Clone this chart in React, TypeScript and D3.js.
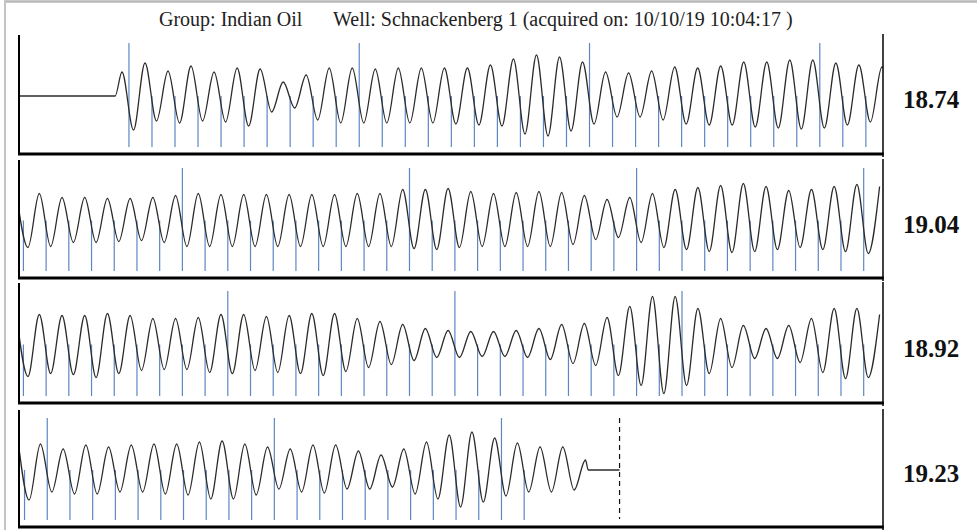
import React from "react";
import * as d3 from "d3";

const titleGroup = "Group: Indian Oil";
const titleWell = "Well: Schnackenberg 1 (acquired on: 10/10/19 10:04:17 )";

// fluid level printed at the right of each strip
const levels = ["18.74", "19.04", "18.92", "19.23"];

// amplitude of each peak / trough (trace units), read strip by strip
const s1Peaks = [24, 33, 25, 30, 24, 28, 27, 14, 21, 28, 28, 27, 28, 28, 28, 28, 31, 37, 41, 39, 34, 24, 23, 25, 29, 28, 30, 34, 34, 36, 36, 33, 31, 29];
const s1Troughs = [34, 25, 27, 25, 26, 30, 16, 12, 24, 27, 27, 27, 27, 27, 28, 29, 30, 38, 40, 35, 28, 21, 21, 24, 28, 29, 29, 31, 32, 33, 32, 29, 26, 25];

const s2Peaks = [27, 23, 23, 22, 22, 23, 25, 27, 26, 26, 26, 26, 26, 26, 27, 27, 31, 31, 32, 29, 27, 28, 29, 28, 25, 21, 23, 27, 31, 33, 35, 37, 34, 30, 31, 34, 36, 34];
const s2Troughs = [27, 26, 22, 22, 21, 20, 22, 26, 26, 26, 26, 26, 26, 26, 26, 26, 26, 28, 29, 27, 26, 26, 26, 26, 24, 19, 17, 22, 27, 29, 31, 32, 31, 29, 27, 29, 31, 33];

const s3Peaks = [30, 29, 29, 31, 29, 26, 26, 27, 30, 30, 28, 29, 31, 31, 26, 23, 20, 16, 14, 13, 13, 14, 16, 20, 21, 27, 38, 48, 48, 36, 26, 19, 16, 19, 26, 36, 36, 30];
const s3Troughs = [32, 29, 30, 33, 29, 26, 25, 25, 28, 29, 26, 28, 29, 31, 27, 23, 20, 16, 13, 13, 12, 12, 13, 15, 19, 21, 31, 41, 49, 41, 29, 23, 14, 14, 18, 28, 34, 33];

const s4Peaks = [26, 21, 25, 23, 25, 26, 26, 28, 29, 26, 23, 21, 25, 25, 19, 15, 21, 28, 35, 38, 32, 27, 23, 23, 10];
const s4Troughs = [30, 22, 24, 24, 22, 22, 24, 25, 29, 29, 25, 19, 22, 23, 19, 19, 17, 24, 29, 37, 32, 26, 22, 22, 20];

// peak carried over from the previous strip (strip 1 starts with the shot)
const leadPeaks = [null, 26, 28, 32];
// time (joints) of the first extreme and half a cycle per strip
const waveStart = [4.49, -0.15, -0.15, -0.1];
const halfCycle = [0.507, 0.5, 0.5, 0.5];
const shotTime = 4.19;
const recordEnd = 26.4;
// collar markers: first joint number and count per strip
const firstJoint = [0, 33, 71, 109];
const jointCount = [33, 38, 38, 23];

const stripSpan = 38;
const tops = [35, 160, 283, 410];
const bottoms = [154, 278, 403, 527];
const LEFT = 20;
const RIGHT = 883;

const peaksList = [s1Peaks, s2Peaks, s3Peaks, s4Peaks];
const troughsList = [s1Troughs, s2Troughs, s3Troughs, s4Troughs];

function extremes(k: number): number[] {
  const P = peaksList[k];
  const T = troughsList[k];
  const out: number[] = [];
  if (leadPeaks[k] === null) {
    P.forEach((p, i) => {
      out.push(p);
      if (i < T.length) out.push(-T[i]);
    });
  } else {
    out.push(leadPeaks[k] as number);
    T.forEach((t, i) => {
      out.push(-t);
      if (i < P.length) out.push(P[i]);
    });
  }
  return out;
}

function Strip({ k }: { k: number }) {
  const top = tops[k];
  const bottom = bottoms[k];
  const mid = (top + bottom) / 2 + 1.5;
  const x = d3.scaleLinear().domain([0, stripSpan]).range([LEFT, RIGHT]);
  const y = d3.scaleLinear().domain([-60, 60]).range([mid + 60, mid - 60]);

  const ext = extremes(k);
  const pts: [number, number][] = ext.map((v, i) => [waveStart[k] + i * halfCycle[k], v]);
  if (k === 0) {
    pts.unshift([0, 0], [shotTime, 0]);
  }
  if (k === 3) {
    const last = pts[pts.length - 1][0];
    pts.push([last + 0.12, 0], [recordEnd, 0]);
  }
  const line = d3
    .line<[number, number]>()
    .x((d) => x(d[0]))
    .y((d) => y(d[1]))
    .curve(d3.curveMonotoneX);

  // collar markers sit just ahead of each trough
  const troughOffset = leadPeaks[k] === null ? 1 : 1;
  const marks = d3.range(jointCount[k]).map((j) => {
    const ti = waveStart[k] + (2 * j + troughOffset) * halfCycle[k] - 0.2;
    return { x: x(ti), tall: (firstJoint[k] + j) % 10 === 0 };
  });

  return (
    <g>
      <clipPath id={`clip${k}`}>
        <rect x={LEFT} y={top - 6} width={RIGHT - LEFT} height={bottom - top + 6} />
      </clipPath>
      {marks.map((m, i) => (
        <line
          key={i}
          x1={m.x}
          x2={m.x}
          y1={m.tall ? top + 8 : y(0)}
          y2={bottom - 7}
          stroke="#5d87c4"
          strokeWidth={1.2}
        />
      ))}
      <path d={line(pts) || ""} fill="none" stroke="#2b2b2b" strokeWidth={1.3} clipPath={`url(#clip${k})`} />
      {k === 3 && (
        <line
          x1={x(recordEnd)}
          x2={x(recordEnd)}
          y1={top + 8}
          y2={bottom - 8}
          stroke="#111"
          strokeWidth={1.2}
          strokeDasharray="5,4"
        />
      )}
      <line x1={LEFT - 1} x2={LEFT - 1} y1={top} y2={bottom} stroke="#000" strokeWidth={2} />
      <line x1={RIGHT} x2={RIGHT} y1={top - 1} y2={bottom + 3} stroke="#000" strokeWidth={1.5} />
      <line x1={LEFT - 2} x2={RIGHT + 0.75} y1={bottom} y2={bottom} stroke="#000" strokeWidth={3} />
      <text
        x={903}
        y={mid + 12}
        fontFamily="'Liberation Serif', 'Times New Roman', serif"
        fontWeight="bold"
        fontSize={25}
        fill="#111"
      >
        {levels[k]}
      </text>
    </g>
  );
}

export default function App() {
  return (
    <svg
      width={977}
      height={530}
      style={{ position: "absolute", left: 0, top: 0, background: "#fff" }}
    >
      <rect x={0} y={0} width={977} height={530} fill="#fff" />
      <line x1={5} x2={977} y1={1.5} y2={1.5} stroke="#b8b8b8" strokeWidth={2.5} />
      <line x1={5} x2={5} y1={0} y2={530} stroke="#c4c4c4" strokeWidth={2} />
      <text x={159} y={26} fontFamily="'Liberation Serif', 'Times New Roman', serif" fontSize={20} fill="#222">
        {titleGroup}
      </text>
      <text x={333} y={26} fontFamily="'Liberation Serif', 'Times New Roman', serif" fontSize={20} fill="#222">
        {titleWell}
      </text>
      {[0, 1, 2, 3].map((k) => (
        <Strip key={k} k={k} />
      ))}
    </svg>
  );
}
